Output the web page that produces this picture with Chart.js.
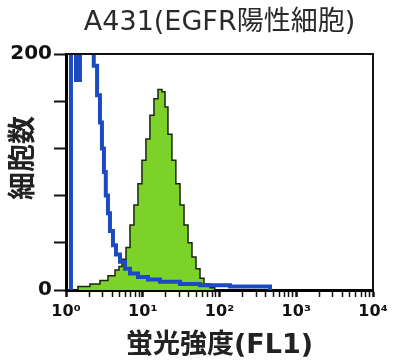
<!DOCTYPE html>
<html lang="ja">
<head>
    <meta charset="UTF-8">
    <title>A431 histogram</title>
    <style>
        html, body { margin: 0; padding: 0; background: #fff; }
        #wrap { width: 393px; height: 364px; }
    </style>
</head>
<body>
    <script src="https://cdn.jsdelivr.net/npm/chart.js@4.4.1/dist/chart.umd.min.js"></script>
    <div id="wrap"><canvas id="chart1" width="393" height="364"></canvas></div>

    <script>
        // FL1 intensity (log axis) and cell counts
        var controlX = [1.13, 1.16, 1.35, 1.52, 2.3, 2.54, 2.77, 2.94, 3.12, 3.3, 3.52, 3.74, 4.09, 4.48, 5.05, 5.87, 6.82, 8.66, 11.7, 16.8, 30.6, 55.7, 137, 392, 455];
        var controlY = [0, 215, 178, 215, 190, 165, 142, 120, 100, 80, 65, 50, 38, 30, 24, 18, 14, 11, 9, 7, 5, 4, 3, 3, 0];

        var egfrX = [1.36, 1.43, 2.05, 2.77, 3.52, 4.35, 4.9, 5.37, 6.05, 6.82, 7.68, 8.66, 9.77, 11.0, 12.4, 14.0, 15.8, 17.8, 19.5, 21.3, 24.0, 27.0, 30.6, 34.5, 38.9, 43.8, 49.4, 55.7, 62.8, 75.3, 86.7];
        var egfrY = [0, 3, 5, 8, 12, 17, 20, 26, 36, 55, 72, 90, 110, 128, 148, 162, 170, 168, 155, 132, 110, 90, 72, 55, 40, 28, 18, 10, 5, 2, 0];

        var xTickLabels = {1: "10⁰", 10: "10¹", 100: "10²", 1000: "10³", 10000: "10⁴"};
        var yTickLabels = [0, 200];

        var fontFamily = "'DejaVu Sans', 'Noto Sans CJK JP', sans-serif";
        var blueColor = "rgb(28, 74, 192)";
        var greenColor = "rgb(124, 210, 40)";

        function toPoints(xs, ys) {
            return xs.map((x, i) => ({x: x, y: ys[i]}));
        }

        var frame = {
            id: 'frame',
            afterDatasetsDraw(chart) {
                let a = chart.chartArea;
                let ctx = chart.ctx;
                ctx.save();
                ctx.strokeStyle = "#111";
                ctx.lineWidth = 2;
                ctx.beginPath();
                ctx.moveTo(a.left, a.top);
                ctx.lineTo(a.right, a.top);
                ctx.lineTo(a.right, a.bottom);
                ctx.stroke();
                ctx.restore();
            }
        };

        var context1 = document.getElementById('chart1').getContext('2d');
        window.chart1 = new Chart(context1, {
            type: 'line',
            data: {
                datasets: [
                {
                    label: "control",
                    data: toPoints(controlX, controlY),
                    borderColor: blueColor,
                    borderWidth: 4,
                    stepped: true,
                    pointRadius: 0,
                    fill: false
                },
                {
                    label: "EGFR",
                    data: toPoints(egfrX, egfrY),
                    borderColor: "#1b2410",
                    backgroundColor: greenColor,
                    borderWidth: 1.5,
                    stepped: true,
                    pointRadius: 0,
                    fill: 'origin'
                }
                ]
            },
            options: {
                responsive: false,
                animation: false,
                layout: { padding: { left: 0, right: 20, top: 0, bottom: 0 } },
                plugins: {
                    legend: { display: false },
                    tooltip: { enabled: false },
                    title: {
                        display: true,
                        text: "A431(EGFR陽性細胞)",
                        fullSize: false,
                        color: "#2a2a2a",
                        font: { family: fontFamily, size: 27, weight: 'normal', lineHeight: 1.2 },
                        padding: { top: 7, bottom: 14.6 }
                    }
                },
                scales: {
                    x: {
                        type: 'logarithmic',
                        min: 1,
                        max: 10000,
                        afterBuildTicks: (scale) => {
                            let ticks = [];
                            for (let d = 1; d < 10000; d *= 10) {
                                for (let m = 1; m < 10; m++) ticks.push({value: m * d});
                            }
                            ticks.push({value: 10000});
                            scale.ticks = ticks;
                        },
                        afterFit: (scale) => { scale.height = 74; },
                        border: { color: "#000", width: 3 },
                        grid: {
                            drawOnChartArea: false,
                            tickLength: 7,
                            tickColor: "#111",
                            tickWidth: (c) => xTickLabels[c.tick && c.tick.value] ? 2.5 : 1.5
                        },
                        ticks: {
                            autoSkip: false,
                            maxRotation: 0,
                            padding: 5,
                            color: "#111",
                            font: { family: fontFamily, size: 16, weight: 'bold' },
                            callback: (v) => xTickLabels[v] || ''
                        },
                        title: {
                            display: true,
                            text: "蛍光強度(FL1)",
                            color: "#222",
                            font: { family: fontFamily, size: 27, weight: 'bold', lineHeight: 1.2 },
                            padding: { top: 0, bottom: 2 }
                        }
                    },
                    y: {
                        min: 0,
                        max: 200,
                        afterFit: (scale) => { scale.width = 66; },
                        border: { color: "#000", width: 3 },
                        grid: {
                            drawOnChartArea: false,
                            tickLength: 12,
                            tickColor: "#111",
                            tickWidth: 2
                        },
                        ticks: {
                            stepSize: 40,
                            padding: 2,
                            color: "#111",
                            font: { family: fontFamily, size: 20, weight: 'bold' },
                            callback: (v) => yTickLabels.includes(v) ? v : ''
                        },
                        title: {
                            display: true,
                            text: "\u3000細胞数",
                            color: "#222",
                            font: { family: fontFamily, size: 28, weight: 'bold', lineHeight: 1.2 },
                            padding: { top: 8, bottom: 0 }
                        }
                    }
                }
            },
            plugins: [frame]
        });
    </script>
</body>
</html>
